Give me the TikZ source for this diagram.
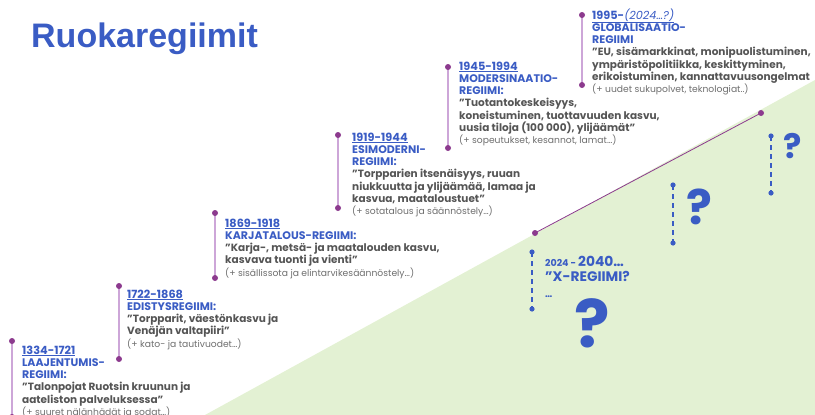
\documentclass[tikz,border=0pt]{standalone}
\usepackage{fontspec}
\setmainfont{Poppins}
\newfontfamily\titlefont{Liberation Sans}
\definecolor{regblue}{HTML}{3A5CC4}
\definecolor{bartint}{HTML}{CDA6D8}
\definecolor{dotpurple}{HTML}{8C3A8E}
\definecolor{fieldgreen}{HTML}{E3F1D3}
\definecolor{quotegray}{HTML}{555555}
\definecolor{notegray}{HTML}{6E6E6E}
\newcommand\yr[1]{\textcolor{regblue}{\fontsize{11.3}{12.3}\selectfont\bfseries\underline{#1}}}
\newcommand\hd[1]{\textcolor{regblue}{\fontsize{11}{12.3}\selectfont\bfseries #1}}
\newcommand\qt[1]{\textcolor{quotegray}{\bfseries #1}}
\newcommand\nt[1]{\textcolor{notegray}{\fontsize{9.2}{10}\selectfont #1}}
\begin{document}
\begin{tikzpicture}[x=1pt,y=-1pt,
  bar/.style={bartint,line width=2.5pt},
  blk/.style={anchor=base west,align=left,inner sep=0pt,font=\fontsize{10.5}{12.3}\selectfont},
  ask/.style={regblue,inner sep=0pt,font=\bfseries}]
  \useasboundingbox (0,0) rectangle (815,415);
  \fill[fieldgreen] (205,415) -- (815,80) -- (815,415) -- cycle;
  \node[anchor=base west,inner sep=0pt,regblue,font=\titlefont\bfseries\fontsize{34}{40}\selectfont] (title) at (31,47) {Ruokaregiimit};
  \foreach \n/\x/\t/\b in {1/12/341/417,2/119/286/359,3/215/213/278,4/338/135/208,5/448/67/148,6/582/15/85} {
    \coordinate (t\n) at (\x,\t);
    \coordinate (u\n) at (\x,\b);
    \draw[bar] (t\n) -- (u\n);
    \fill[dotpurple] (t\n) circle (3pt) (u\n) circle (3pt);
  }
  \node[blk] (b1) at (22,415.5) {\yr{1334-1721}\\\hd{LAAJENTUMIS-}\\\hd{REGIIMI:}\\\qt{"Talonpojat Ruotsin kruunun ja}\\\qt{aateliston palveluksessa"}\\\nt{(+ suuret nälänhädät ja sodat…)}};
  \node[blk] (b2) at (127,347.2) {\yr{1722-1868}\\\hd{EDISTYSREGIIMI:}\\\qt{"Torpparit, väestönkasvu ja}\\\qt{Venäjän valtapiiri"}\\\nt{(+ kato- ja tautivuodet…)}};
  \node[blk] (b3) at (225,276.2) {\yr{1869-1918}\\\hd{KARJATALOUS-REGIIMI:}\\\qt{"Karja-, metsä- ja maatalouden kasvu,}\\\qt{kasvava tuonti ja vienti"}\\\nt{(+ sisällissota ja elintarvikesäännöstely…)}};
  \node[blk] (b4) at (352,214.8) {\yr{1919-1944}\\\hd{ESIMODERNI-}\\\hd{REGIIMI:}\\\qt{"Torpparien itsenäisyys, ruuan}\\\qt{niukkuutta ja ylijäämää, lamaa ja}\\\qt{kasvua, maataloustuet"}\\\nt{(+ sotatalous ja säännöstely…)}};
  \node[blk] (b5) at (459,143.8) {\yr{1945-1994}\\\hd{MODERSINAATIO-}\\\hd{REGIIMI:}\\\qt{"Tuotantokeskeisyys,}\\\qt{koneistuminen, tuottavuuden kasvu,}\\\qt{uusia tiloja (100 000), ylijäämät"}\\\nt{(+ sopeutukset, kesannot, lamat…)}};
  \node[blk] (b6) at (592,92.8) {\textcolor{regblue}{\fontsize{11.3}{12.3}\selectfont\underline{\bfseries 1995-\mdseries\itshape(2024…?)}}\\\hd{GLOBALISAATIO-}\\\hd{REGIIMI}\\\qt{"EU, sisämarkkinat, monipuolistuminen,}\\\qt{ympäristöpolitiikka, keskittyminen,}\\\qt{erikoistuminen, kannattavuusongelmat}\\\nt{(+ uudet sukupolvet, teknologiat..)}};
  % tulevaisuus
  \coordinate (now) at (535,233);
  \coordinate (next) at (761,113);
  \draw[dotpurple,line width=0.8pt] (now) -- (next);
  \fill[dotpurple] (now) circle (3pt) (next) circle (3pt);
  \foreach \n/\x/\t/\b in {1/532/252/309,2/673/185/243,3/771/136/193} {
    \coordinate (p\n) at (\x,\t);
    \coordinate (q\n) at (\x,\b);
    \draw[regblue,line width=1.3pt,dash pattern=on 5pt off 4pt] (p\n) -- (q\n);
    \fill[regblue] (p\n) circle (2.6pt) (q\n) circle (2.6pt);
  }
  \node[blk,regblue,font=\bfseries\fontsize{13.8}{15.5}\selectfont] (x) at (545,297) {{\fontsize{9.5}{10}\selectfont 2024 - }2040…\\"X-REGIIMI?\\{\fontsize{9.5}{10}\selectfont …}};
  \node[ask,font=\bfseries\fontsize{66}{70}\selectfont] (q1) at (592,323) {?};
  \node[ask,font=\bfseries\fontsize{48}{52}\selectfont] (q2) at (699,207) {?};
  \node[ask,font=\bfseries\fontsize{34}{38}\selectfont] (q3) at (793,146) {?};
\end{tikzpicture}
\end{document}
